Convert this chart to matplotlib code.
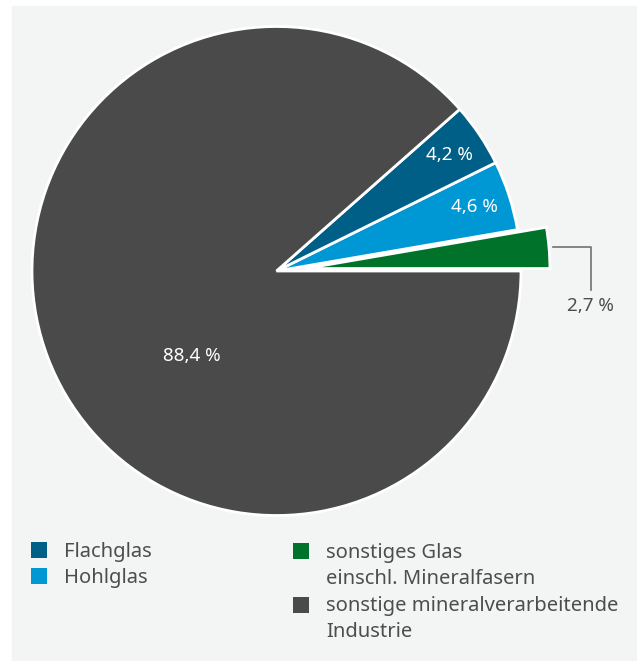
import matplotlib.pyplot as plt
import numpy as np
from matplotlib.patches import Rectangle

# data (share in %)
labels = [["sonstiges Glas", "einschl. Mineralfasern"], ["Hohlglas"], ["Flachglas"],
          ["sonstige mineralverarbeitende", "Industrie"]]
values = [2.7, 4.6, 4.2, 88.4]
texts = ["2,7 %", "4,6 %", "4,2 %", "88,4 %"]
colors = ["#00722a", "#0098d4", "#005f86", "#4a4a4a"]

plt.rcParams['font.family'] = ['Noto Sans', 'DejaVu Sans']
W, H = 637, 661
fig = plt.figure(figsize=(W / 100, H / 100), dpi=100)
fig.patches.append(Rectangle((12 / W, 0), 1 - 12 / W, 1 - 6 / H,
                             transform=fig.transFigure, color="#f3f4f4", zorder=-1))

ax = fig.add_axes([0, 0, 1, 1])
ax.patch.set_visible(False)

cx, cy, R = 276.5, H - 271, 244.5
wedges, _ = ax.pie(values, colors=colors, explode=[29, 0, 0, 0], startangle=0,
                   counterclock=True, center=(cx, cy), radius=R,
                   wedgeprops=dict(edgecolor="white", linewidth=2))
ax.set_xlim(0, W)
ax.set_ylim(0, H)
ax.set_aspect("equal")
ax.axis("off")

txtcol = "#4d4d4d"

# inside labels for the two blue slices
for i in (1, 2):
    w = wedges[i]
    a = np.deg2rad((w.theta1 + w.theta2) / 2)
    ax.text(cx + 0.85 * R * np.cos(a), cy + 0.85 * R * np.sin(a), texts[i],
            color="white", fontsize=13.5, ha="center", va="center")

# big slice label
a = np.deg2rad(225)
ax.text(cx + 0.49 * R * np.cos(a), cy + 0.49 * R * np.sin(a), texts[3],
        color="white", fontsize=13.5, ha="center", va="center")

# leader line for small slice
ax.plot([553, 591, 591], [H - 247, H - 247, H - 290], color="#707070", lw=1.2)
ax.text(590, H - 306, texts[0], color=txtcol, fontsize=13.5,
        ha="center", va="center")

# legend: (slice index, square x, square top, first baseline)
leg = [(2, 31, 542, 557), (1, 31, 568, 583.5), (0, 293, 543, 558), (3, 293, 597, 611)]
for i, x, top, base in leg:
    ax.add_patch(Rectangle((x, H - top - 15.5), 15.5, 15.5, color=colors[i], lw=0))
    for k, line in enumerate(labels[i]):
        ax.text(x + 33, H - base - 26.3 * k, line, color=txtcol, fontsize=14.5,
                ha="left", va="baseline")

fig.savefig("out.png", dpi=100)
